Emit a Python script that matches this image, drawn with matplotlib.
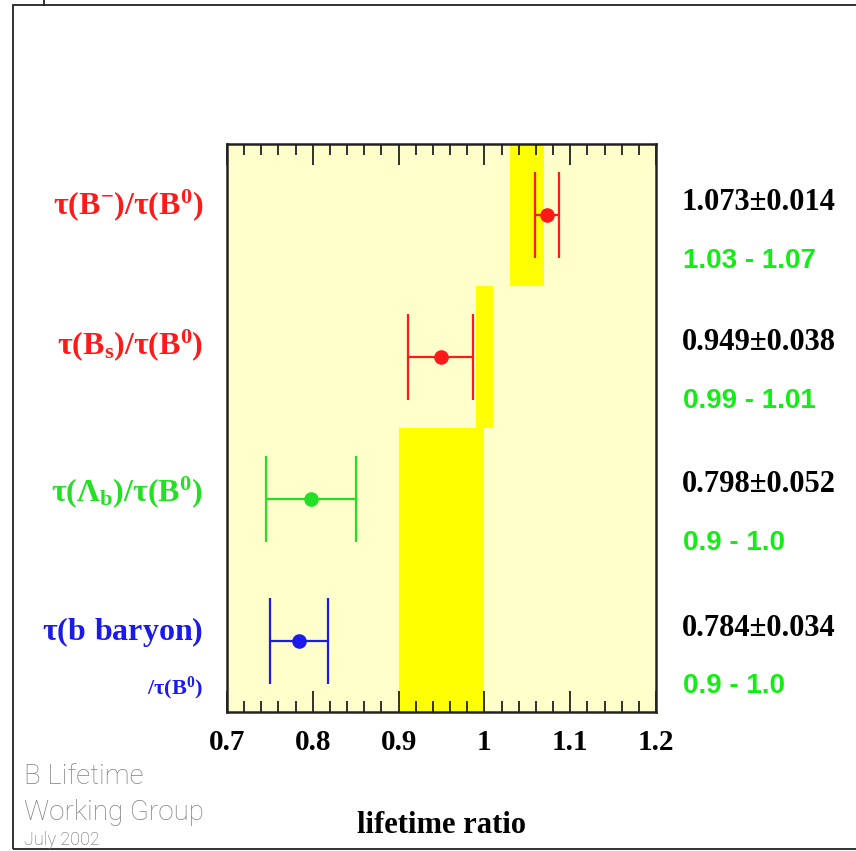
import matplotlib
matplotlib.use("Agg")
import matplotlib.pyplot as plt
from matplotlib.patches import Rectangle

# measured lifetime ratios, top row first
labels = [r"$\tau(B^{-})/\tau(B^{0})$", r"$\tau(B_{s})/\tau(B^{0})$",
          r"$\tau(\Lambda_{b})/\tau(B^{0})$", r"$\tau(b\ baryon)$"]
values = [1.073, 0.949, 0.798, 0.784]
errors = [0.014, 0.038, 0.052, 0.034]
colors = ["#ff1a1a", "#ff1a1a", "#22e022", "#1a1aee"]
# theory ranges (yellow bands)
range_lo = [1.03, 0.99, 0.9, 0.9]
range_hi = [1.07, 1.01, 1.0, 1.0]
range_text = ["1.03 - 1.07", "0.99 - 1.01", "0.9 - 1.0", "0.9 - 1.0"]
value_text = ["1.073\u00b10.014", "0.949\u00b10.038", "0.798\u00b10.052", "0.784\u00b10.034"]
xticks = [0.7, 0.8, 0.9, 1.0, 1.1, 1.2]
xtick_labels = ["0.7", "0.8", "0.9", "1", "1.1", "1.2"]

plt.rcParams["mathtext.fontset"] = "custom"
plt.rcParams["mathtext.rm"] = "Liberation Serif:bold"
plt.rcParams["mathtext.bf"] = "Liberation Serif:bold"
plt.rcParams["mathtext.it"] = "Liberation Serif:bold"
plt.rcParams["mathtext.default"] = "rm"

W, H = 856, 851
fig = plt.figure(figsize=(W / 100, H / 100), dpi=100)

def fx(px):
    return px / W

def fy(py):
    return 1 - py / H

# outer frame
fig.patches.append(Rectangle((fx(13), fy(849)), 1.2, fy(5) - fy(849), transform=fig.transFigure,
                             fill=False, edgecolor="#222222", linewidth=1.3))
fig.add_artist(plt.Line2D([fx(44), fx(44)], [fy(5), 1.0], transform=fig.transFigure,
                          color="#222222", linewidth=1.3))

ax = fig.add_axes([fx(227), fy(712), fx(656) - fx(227), fy(144) - fy(712)])
ax.set_facecolor("#ffffcc")

n = len(values)
ypos = [n - 0.5 - i for i in range(n)]

for i in range(n):
    ax.barh(ypos[i], range_hi[i] - range_lo[i], left=range_lo[i], height=1.0,
            color="#ffff00", edgecolor="none", zorder=1)
    ax.errorbar(values[i], ypos[i], xerr=errors[i], fmt="o", color=colors[i],
                ms=9.5, elinewidth=1.6, capsize=31, capthick=1.6, zorder=3)

ax.set_xlim(0.7, 1.2)
ax.set_ylim(0, n)
ax.set_yticks([])
ax.set_xticks(xticks)
ax.set_xticks([0.7 + 0.02 * k for k in range(26)], minor=True)
ax.set_xticklabels(xtick_labels, fontfamily="Liberation Serif", fontweight="bold", fontsize=21)
ax.tick_params(axis="x", which="both", direction="in", top=True, bottom=True, width=1.3,
               color="#222222", pad=12)
ax.tick_params(axis="x", which="major", length=15)
ax.tick_params(axis="x", which="minor", length=8)
for sp in ax.spines.values():
    sp.set_linewidth(1.8)
    sp.set_color("#222222")

ax.set_xlabel("lifetime ratio", fontfamily="Liberation Serif", fontweight="bold",
              fontsize=22, labelpad=40)

# left labels
label_y = [205, 345, 492, 632]
for i in range(n):
    fig.text(fx(203), fy(label_y[i]), labels[i], color=colors[i], fontsize=23,
             ha="right", va="center")
fig.text(fx(203), fy(688), r"$/\tau(B^{0})$", color=colors[3], fontsize=16,
         ha="right", va="center")

# right numbers
val_y = [203, 343, 485, 628]
rng_y = [261, 401, 543, 686]
for i in range(n):
    fig.text(fx(682), fy(val_y[i]), value_text[i], fontfamily="Liberation Serif",
             fontweight="bold", fontsize=22, color="black", ha="left", va="center")
    fig.text(fx(683), fy(rng_y[i]), range_text[i], fontfamily="Liberation Sans",
             fontweight="bold", fontsize=20, color="#11ee11", ha="left", va="center")

# group credit
fig.text(fx(24), fy(777), "B Lifetime", fontfamily="Roboto", fontweight="light",
         fontsize=20, color="#808080", ha="left", va="center")
fig.text(fx(24), fy(813), "Working Group", fontfamily="Roboto", fontweight="light",
         fontsize=20, color="#808080", ha="left", va="center")
fig.text(fx(24), fy(840), "July 2002", fontfamily="Roboto", fontweight="light",
         fontsize=13, color="#666666", ha="left", va="center")

fig.savefig("out.png", dpi=100)
